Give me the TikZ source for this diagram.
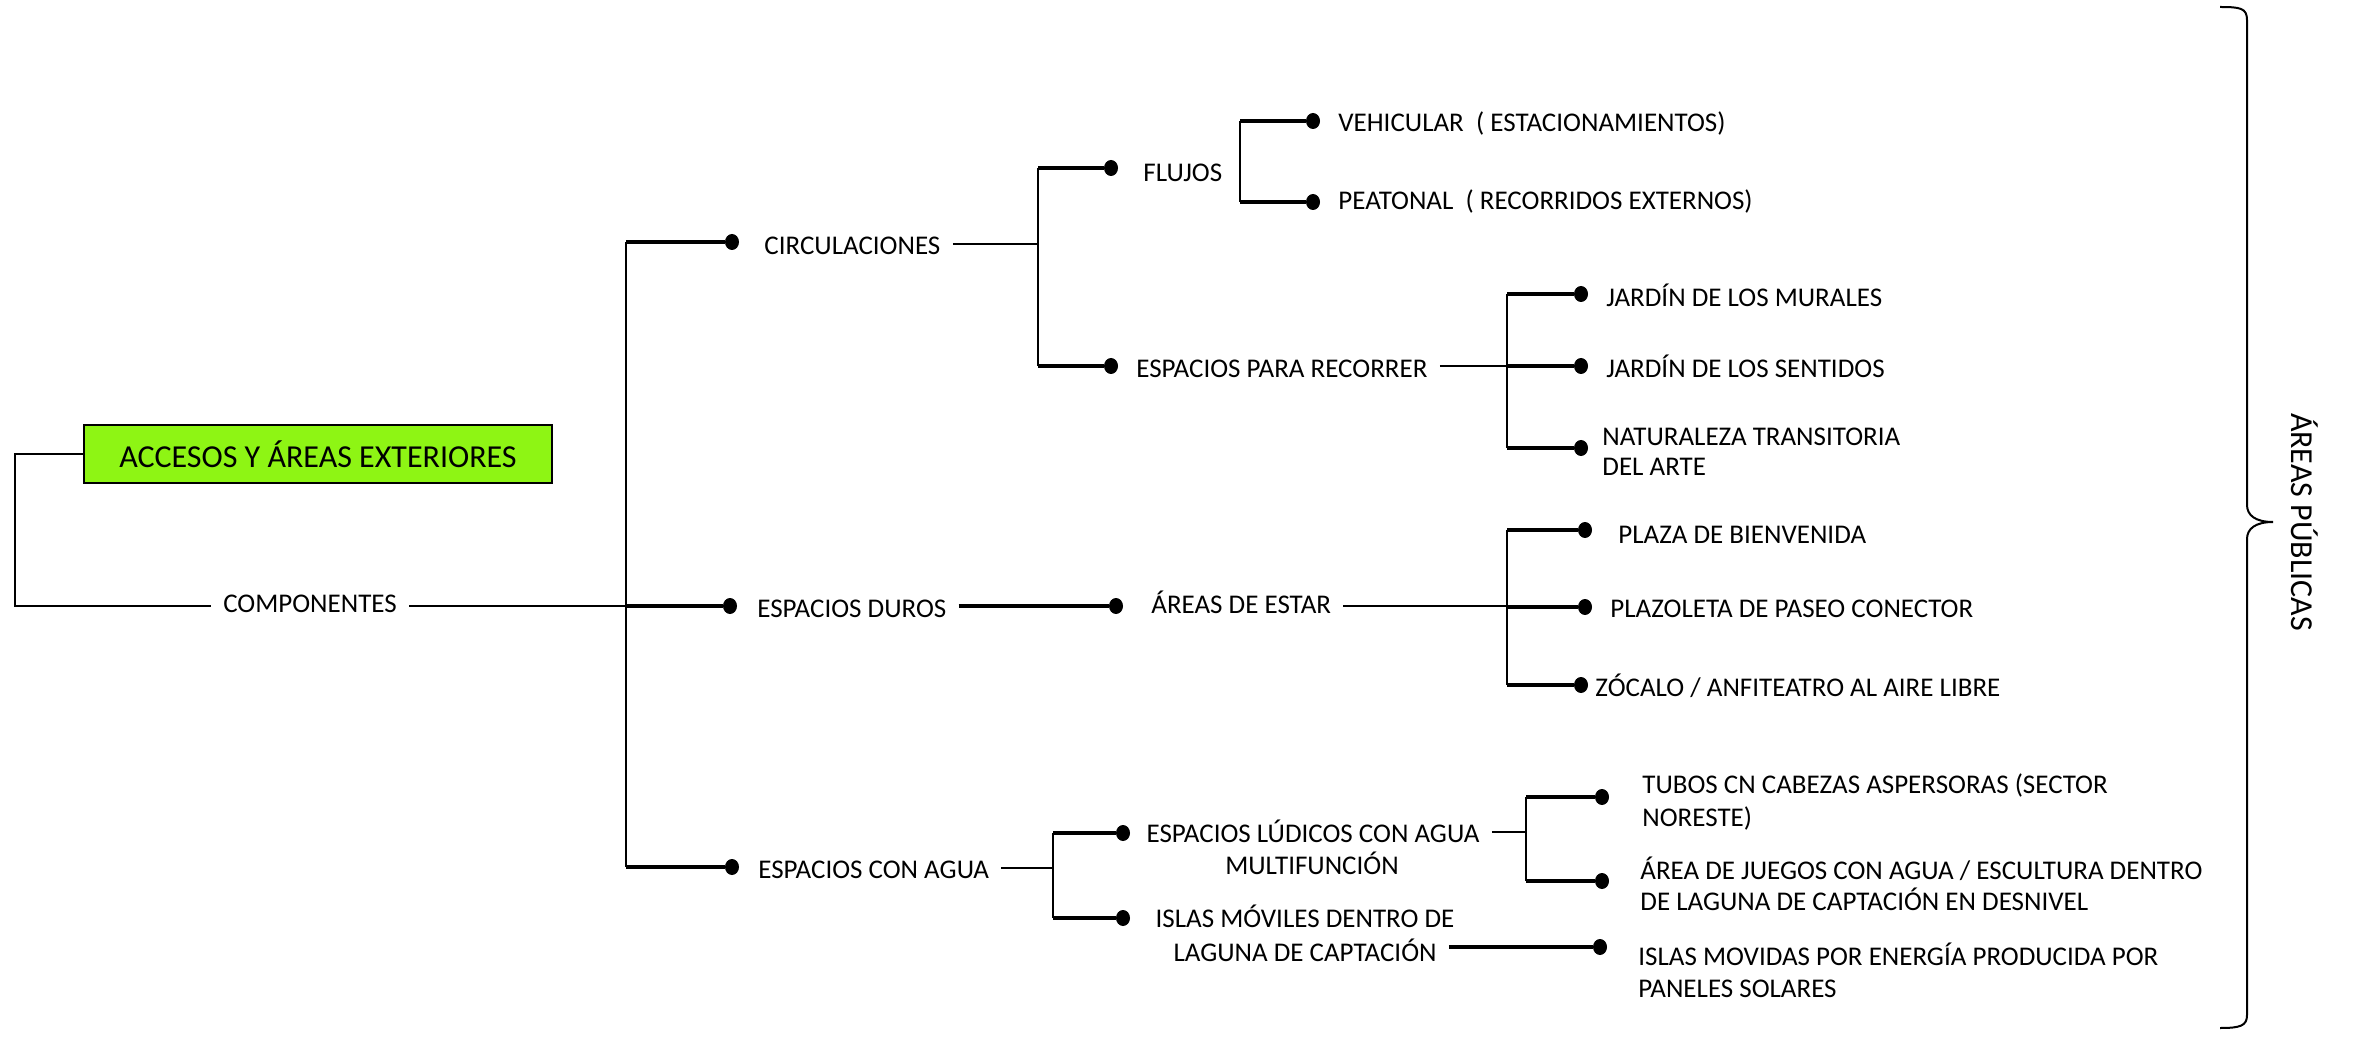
\documentclass[tikz,border=0pt]{standalone}
\usepackage{fontspec}
\setmainfont{Carlito}
\usetikzlibrary{shapes.geometric}
\definecolor{boxgreen}{RGB}{142,245,20}
\begin{document}
\begin{tikzpicture}[x=0.5pt,y=-0.5pt,
  conn/.style={line width=1pt},
  lead/.style={line width=1.6pt},
  dot/.style={ellipse,fill=black,inner sep=0pt,minimum width=7pt,minimum height=8pt},
  lbl/.style={inner xsep=6pt,inner ysep=0pt,font=\fontsize{13.5}{16}\selectfont},
  lw/.style={lbl,anchor=base west},
  lc/.style={lbl,anchor=base}]
\useasboundingbox (0,0) rectangle (2355,1037);

% root
\node[draw=black,line width=1pt,fill=boxgreen,minimum width=234pt,minimum height=29pt,inner sep=0pt,
      font=\fontsize{16}{19}\selectfont] (root) at (318,454) {ACCESOS Y ÁREAS EXTERIORES};
\node[lbl,anchor=base] (comp) at (310,612) {COMPONENTES};

% bullets
\node[dot] (circB) at (732,242) {};
\node[dot] (flujB) at (1111,168) {};
\node[dot] (recB) at (1111,366) {};
\node[dot] (vehB) at (1313,121) {};
\node[dot] (peaB) at (1313,202) {};
\node[dot] (murB) at (1581,294) {};
\node[dot] (senB) at (1581,366) {};
\node[dot] (natB) at (1581,448) {};
\node[dot] (durB) at (730,606) {};
\node[dot] (areB) at (1116,606) {};
\node[dot] (plaB) at (1585,530) {};
\node[dot] (pzoB) at (1585,607) {};
\node[dot] (zocB) at (1581,685) {};
\node[dot] (aguaB) at (732,867) {};
\node[dot] (ludB) at (1123,833) {};
\node[dot] (islB) at (1123,918) {};
\node[dot] (tubB) at (1602,797) {};
\node[dot] (jueB) at (1602,881) {};
\node[dot] (movB) at (1600,947) {};

% labels
\node[lw] (circT) at (752,255) {CIRCULACIONES};
\node[lw] (flujT) at (1131,182) {FLUJOS};
\node[lw] (recT) at (1124,378) {ESPACIOS PARA RECORRER};
\node[lw] (vehT) at (1326,132) {VEHICULAR\ \ ( ESTACIONAMIENTOS)};
\node[lw] (peaT) at (1326,210) {PEATONAL\ \ ( RECORRIDOS EXTERNOS)};
\node[lw] (murT) at (1594,307) {JARDÍN DE LOS MURALES};
\node[lw] (senT) at (1594,378) {JARDÍN DE LOS SENTIDOS};
\node[lw] (nat1) at (1590,445) {NATURALEZA TRANSITORIA};
\node[lw] (nat2) at (1590,475) {DEL ARTE};
\node[lw] (durT) at (745,617) {ESPACIOS DUROS};
\node[lw] (areT) at (1139,613) {ÁREAS DE ESTAR};
\node[lw] (plaT) at (1606,543) {PLAZA DE BIENVENIDA};
\node[lw] (pzoT) at (1598,617) {PLAZOLETA DE PASEO CONECTOR};
\node[lw] (zocT) at (1583,696) {ZÓCALO / ANFITEATRO AL AIRE LIBRE};
\node[lw] (aguaT) at (746,878) {ESPACIOS CON AGUA};
\node[lc] (lud1) at (1313,842) {ESPACIOS LÚDICOS CON AGUA};
\node[lc] (lud2) at (1312,874) {MULTIFUNCIÓN};
\node[lc] (isl1) at (1305,927) {ISLAS MÓVILES DENTRO DE};
\node[lc] (isl2) at (1305,961) {LAGUNA DE CAPTACIÓN};
\node[lw] (tub1) at (1630,793) {TUBOS CN CABEZAS ASPERSORAS (SECTOR};
\node[lw] (tub2) at (1630,826) {NORESTE)};
\node[lw] (jue1) at (1628,879) {ÁREA DE JUEGOS CON AGUA / ESCULTURA DENTRO};
\node[lw] (jue2) at (1628,910) {DE LAGUNA DE CAPTACIÓN EN DESNIVEL};
\node[lw] (mov1) at (1626,965) {ISLAS MOVIDAS POR ENERGÍA PRODUCIDA POR};
\node[lw] (mov2) at (1626,997) {PANELES SOLARES};

% junction coordinates
\coordinate (spine) at (626,607);
\coordinate (J1) at (1038,244);
\coordinate (J2) at (1240,162);
\coordinate (J3) at (1507,366);
\coordinate (J4) at (1507,606);
\coordinate (J5) at (1053,868);
\coordinate (J6) at (1526,832);

% root bracket
\draw[conn] (root.west) -- ++(-68,0) |- (comp.west |- durB);
\draw[conn] (comp.east |- durB) -- (spine |- durB);
\draw[lead] (spine |- durB) -- (durB);
\draw[conn] (spine |- circB) -- (spine |- aguaB);
\draw[lead] (spine |- circB) -- (circB);
\draw[lead] (spine |- aguaB) -- (aguaB);

% circulaciones
\draw[conn] (circT.east |- J1) -- (J1);
\draw[conn] (J1 |- flujB) -- (J1 |- recB);
\draw[lead] (J1 |- flujB) -- (flujB);
\draw[lead] (J1 |- recB) -- (recB);
\draw[conn] (J2 |- vehB) -- (J2 |- peaB);
\draw[lead] (J2 |- vehB) -- (vehB);
\draw[lead] (J2 |- peaB) -- (peaB);
\draw[conn] (recT.east |- J3) -- (J3);
\draw[conn] (J3 |- murB) -- (J3 |- natB);
\draw[lead] (J3 |- murB) -- (murB);
\draw[lead] (J3 |- senB) -- (senB);
\draw[lead] (J3 |- natB) -- (natB);

% espacios duros
\draw[lead] (durT.east |- areB) -- (areB);
\draw[conn] (areT.east |- J4) -- (J4);
\draw[conn] (J4 |- plaB) -- (J4 |- zocB);
\draw[lead] (J4 |- plaB) -- (plaB);
\draw[lead] (J4 |- pzoB) -- (pzoB);
\draw[lead] (J4 |- zocB) -- (zocB);

% espacios con agua
\draw[conn] (aguaT.east |- J5) -- (J5);
\draw[conn] (J5 |- ludB) -- (J5 |- islB);
\draw[lead] (J5 |- ludB) -- (ludB);
\draw[lead] (J5 |- islB) -- (islB);
\draw[conn] (lud1.east |- J6) -- (J6);
\draw[conn] (J6 |- tubB) -- (J6 |- jueB);
\draw[lead] (J6 |- tubB) -- (tubB);
\draw[lead] (J6 |- jueB) -- (jueB);
\draw[lead] (isl2.east |- movB) -- (movB);

% brace
\draw[conn] (2220,7) .. controls (2240,7) and (2247,8) .. (2247,20) -- (2247,505)
  .. controls (2247,515) and (2255,522) .. (2273,522)
  .. controls (2255,522) and (2247,529) .. (2247,539) -- (2247,1015)
  .. controls (2247,1026) and (2240,1028) .. (2220,1028);
\node[rotate=-90,inner sep=0pt,font=\fontsize{16}{19}\selectfont] (areas) at (2305,522) {ÁREAS PÚBLICAS};
\end{tikzpicture}
\end{document}
